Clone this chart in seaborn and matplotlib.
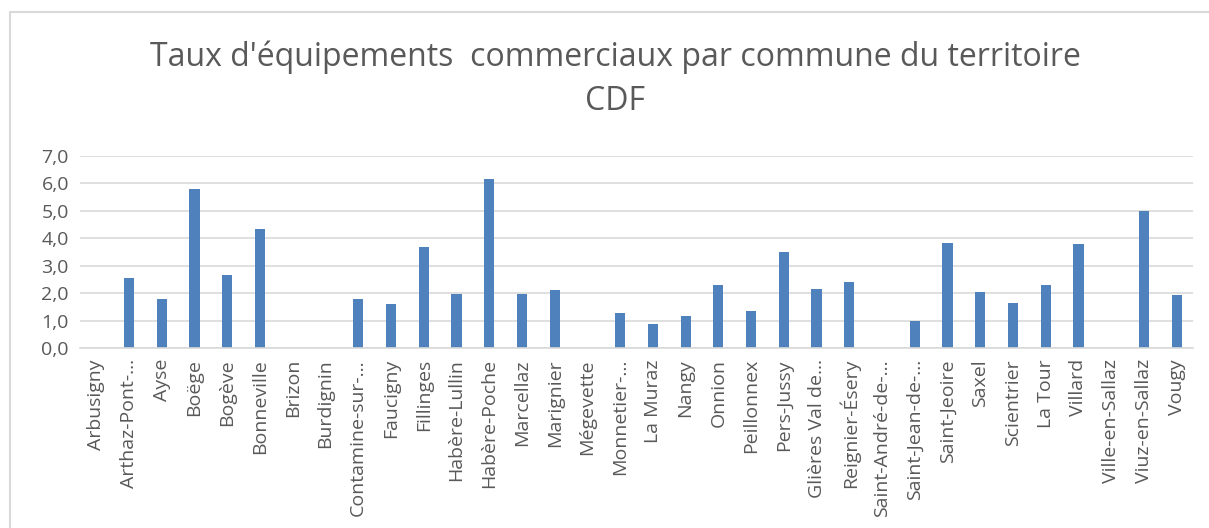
import matplotlib
matplotlib.use('Agg')
import matplotlib.pyplot as plt
import seaborn as sns
import pandas as pd
from matplotlib.patches import Rectangle
from matplotlib.ticker import FuncFormatter

communes = ['Arbusigny', 'Arthaz-Pont-…', 'Ayse', 'Boëge', 'Bogève', 'Bonneville',
            'Brizon', 'Burdignin', 'Contamine-sur-…', 'Faucigny', 'Fillinges',
            'Habère-Lullin', 'Habère-Poche', 'Marcellaz', 'Marignier', 'Mégevette',
            'Monnetier-…', 'La Muraz', 'Nangy', 'Onnion', 'Peillonnex', 'Pers-Jussy',
            'Glières Val de…', 'Reignier-Ésery', 'Saint-André-de-…', 'Saint-Jean-de-…',
            'Saint-Jeoire', 'Saxel', 'Scientrier', 'La Tour', 'Villard',
            'Ville-en-Sallaz', 'Viuz-en-Sallaz', 'Vougy']
taux = [0.0, 2.57, 1.77, 5.79, 2.66, 4.34,
        0.0, 0.0, 1.77, 1.60, 3.69,
        1.97, 6.16, 1.97, 2.10, 0.0,
        1.26, 0.88, 1.16, 2.29, 1.35, 3.49,
        2.15, 2.42, 0.0, 0.98,
        3.82, 2.05, 1.64, 2.29, 3.79,
        0.0, 5.00, 1.92]

df = pd.DataFrame({'commune': communes, 'taux': taux})

sns.set_style('white')
plt.rcParams['font.family'] = ['Open Sans', 'DejaVu Sans']

fig = plt.figure(figsize=(12.09, 5.28), dpi=100)
ax = fig.add_axes([80 / 1209, 1 - 348 / 528, (1193 - 80) / 1209, (348 - 156) / 528])

sns.barplot(data=df, x='commune', y='taux', color='#4F81BD', width=0.31,
            saturation=1, edgecolor='none', ax=ax)

ax.set_ylim(0, 7)
ax.set_xlim(-0.5, len(communes) - 0.5)
ax.set_yticks(range(0, 8))
ax.yaxis.set_major_formatter(FuncFormatter(lambda v, p: f'{v:.1f}'.replace('.', ',')))
ax.grid(axis='y', color='#D9D9D9', linewidth=1.2)
ax.set_axisbelow(True)
for s in ['top', 'right', 'left']:
    ax.spines[s].set_visible(False)
ax.spines['bottom'].set_color('#D9D9D9')
ax.spines['bottom'].set_linewidth(1.2)
ax.tick_params(axis='y', length=0, labelsize=14, labelcolor='#595959', pad=8)
ax.tick_params(axis='x', length=0, labelsize=14, labelcolor='#595959', pad=8)
plt.setp(ax.get_xticklabels(), rotation=90)
ax.set_xlabel('')
ax.set_ylabel('')

fig.text(615 / 1209, 1 - 57 / 528, "Taux d'équipements  commerciaux par commune du territoire",
         ha='center', va='center', fontsize=23, color='#595959')
fig.text(615 / 1209, 1 - 101 / 528, 'CDF', ha='center', va='center', fontsize=23, color='#595959')

fig.patches.append(Rectangle((10 / 1209, -0.1), 1.2, 1.1 - 12 / 528, transform=fig.transFigure,
                             fill=False, edgecolor='#D9D9D9', linewidth=1.5))

fig.savefig('out.png', dpi=100)
